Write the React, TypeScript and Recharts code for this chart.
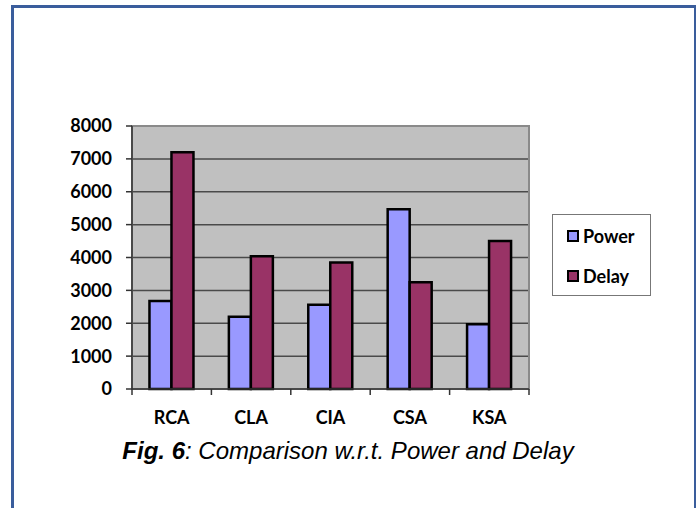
import React from 'react';
import { BarChart, Bar, XAxis, YAxis, CartesianGrid, ReferenceArea, Legend } from 'recharts';

const categories = ['RCA', 'CLA', 'CIA', 'CSA', 'KSA'];
const seriesNames = ['Power', 'Delay'];
const powerValues = [2680, 2200, 2560, 5470, 1970];
const delayValues = [7200, 4040, 3850, 3250, 4500];
const yTicks = [0, 1000, 2000, 3000, 4000, 5000, 6000, 7000, 8000];

const data = categories.map((name, i) => ({ name, Power: powerValues[i], Delay: delayValues[i] }));

const CHART_W = 696;
const CHART_H = 508;
const X_AXIS_H = 40;
const MARGIN = { top: 126, right: 167, bottom: 119 - X_AXIS_H, left: 72 };
const Y_AXIS_W = 60;
const PLOT_W = CHART_W - MARGIN.left - MARGIN.right - Y_AXIS_W;
const BAND = PLOT_W / categories.length;

const FONT = 'Lato, "Open Sans", sans-serif';

// label at category centre, tick marks on the category boundaries (Excel style)
const CategoryTick = (props: any) => {
  const { x, y, payload, index } = props;
  const left = x - BAND / 2;
  return (
    <g>
      <line x1={left} y1={y} x2={left} y2={y + 6} stroke="#333" strokeWidth={1.5} />
      {index === categories.length - 1 && (
        <line x1={left + BAND} y1={y} x2={left + BAND} y2={y + 6} stroke="#333" strokeWidth={1.5} />
      )}
      <text x={x} y={y + 29} dy="0.35em" textAnchor="middle" fontFamily={FONT} fontWeight={700} fontSize={18} fill="#000">
        {payload.value}
      </text>
    </g>
  );
};

const renderLegend = (props: any) => {
  const payload = [...(props.payload || [])].sort(
    (a: any, b: any) => seriesNames.indexOf(a.value) - seriesNames.indexOf(b.value)
  );
  return (
    <div style={{ width: 97, height: 80, border: '1px solid #777', background: '#fff' }}>
      {payload.map((entry: any, i: number) => (
        <div
          key={entry.value}
          style={{
            display: 'flex',
            alignItems: 'center',
            height: 20,
            marginTop: i === 0 ? 11 : 20,
            marginLeft: 14,
            fontFamily: FONT,
            fontWeight: 700,
            fontSize: 18,
            color: '#000',
          }}
        >
          <span
            style={{
              display: 'inline-block',
              width: 8,
              height: 8,
              border: '2px solid #000',
              background: entry.color,
              marginRight: 4,
            }}
          />
          {entry.value}
        </div>
      ))}
    </div>
  );
};

const App = () => {
  return (
    <div style={{ position: 'absolute', left: 0, top: 0, width: CHART_W, height: CHART_H, background: '#fff', overflow: 'hidden' }}>
      <div
        style={{
          position: 'absolute',
          left: 11,
          top: 5,
          width: 680,
          height: 520,
          borderLeft: '3px solid #3a5d9c',
          borderTop: '3px solid #3a5d9c',
          borderRight: '3px solid #3a5d9c',
        }}
      />
      <div style={{ position: 'absolute', left: 0, top: 0 }}>
        <BarChart width={CHART_W} height={CHART_H} data={data} margin={MARGIN} barCategoryGap="22%" barGap={0}>
          <CartesianGrid vertical={false} fill="#c0c0c0" fillOpacity={1} stroke="#4a4a4a" strokeWidth={1.5} />
          <ReferenceArea y1={0} y2={8000} fill="none" stroke="#8a8a8a" strokeWidth={2} ifOverflow="visible" />
          <XAxis
            dataKey="name"
            height={X_AXIS_H}
            tick={<CategoryTick />}
            tickLine={false}
            tickSize={0}
            tickMargin={0}
            axisLine={{ stroke: '#333', strokeWidth: 1.5 }}
            interval={0}
          />
          <YAxis
            width={Y_AXIS_W}
            domain={[0, 8000]}
            ticks={yTicks}
            interval={0}
            tickSize={6}
            tickMargin={14}
            axisLine={{ stroke: '#333', strokeWidth: 1.5 }}
            tickLine={{ stroke: '#333', strokeWidth: 1.5 }}
            tick={{ fontFamily: FONT, fontWeight: 700, fontSize: 18, fill: '#000' }}
          />
          <Legend
            layout="horizontal"
            verticalAlign="middle"
            align="center"
            content={renderLegend}
            wrapperStyle={{ position: 'absolute', left: 552, top: 214, width: 'auto' }}
          />
          <Bar dataKey="Power" fill="#9999ff" stroke="#000" strokeWidth={2.5} isAnimationActive={false} />
          <Bar dataKey="Delay" fill="#993366" stroke="#000" strokeWidth={2.5} isAnimationActive={false} />
        </BarChart>
      </div>
      <div
        style={{
          position: 'absolute',
          left: 0,
          width: CHART_W,
          top: 437,
          textAlign: 'center',
          fontFamily: '"Liberation Sans", Arial, sans-serif',
          fontStyle: 'italic',
          fontSize: 24,
          color: '#000',
          whiteSpace: 'nowrap',
        }}
      >
        <b>Fig. 6</b>: Comparison w.r.t. Power and Delay
      </div>
    </div>
  );
};

export default App;
